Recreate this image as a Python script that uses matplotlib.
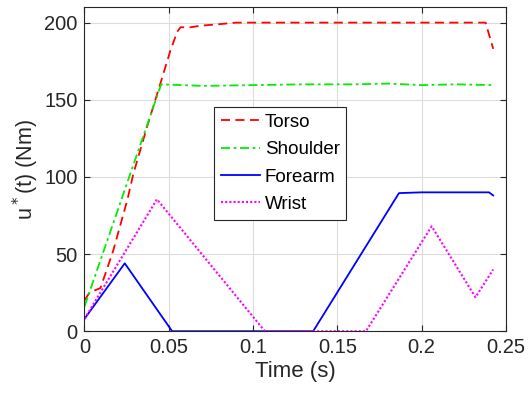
import numpy as np
import matplotlib.pyplot as plt

plt.rcParams['font.family'] = ['Liberation Sans', 'DejaVu Sans']

# Joint torques (time in s, torque in Nm)
t_torso = [0.0, 0.003, 0.0095, 0.017, 0.0254, 0.029, 0.037, 0.046, 0.051, 0.055,
           0.057, 0.063, 0.069, 0.08, 0.09, 0.15, 0.2, 0.238, 0.2425]
u_torso = [20, 25, 28, 52, 85, 102, 132, 164, 182, 194,
           197, 197, 198, 199, 200, 200, 200, 200, 183]

t_shoulder = [0.0, 0.0455, 0.07, 0.1, 0.13, 0.16, 0.18, 0.2, 0.22, 0.2425]
u_shoulder = [16, 160, 159, 159.5, 160, 160, 160.5, 159.5, 160, 159.5]

t_forearm = [0.0, 0.0239, 0.052, 0.1, 0.1357, 0.1866, 0.2, 0.24, 0.2425]
u_forearm = [8, 44, 0, 0, 0, 89.5, 90, 90, 88]

t_wrist = [0.0, 0.043, 0.107, 0.167, 0.206, 0.232, 0.2425]
u_wrist = [8, 85.5, 0, 0, 68, 22, 40]

fig, ax = plt.subplots(figsize=(5.28, 4.0), dpi=100)
ax.plot(t_torso, u_torso, color='#ff0000', ls=(0, (5, 3)), lw=1.3, label='Torso')
ax.plot(t_shoulder, u_shoulder, color='#00ee00', ls=(0, (5, 2, 1.5, 2)), lw=1.3, label='Shoulder')
ax.plot(t_forearm, u_forearm, color='#0000ff', lw=1.3, label='Forearm')
ax.plot(t_wrist, u_wrist, color='#ff00ff', ls=(0, (1, 1)), lw=1.5, label='Wrist')

ax.set_xlim(0, 0.25)
ax.set_ylim(0, 210)
ax.set_xticks([0, 0.05, 0.1, 0.15, 0.2, 0.25])
ax.set_xticklabels(['0', '0.05', '0.1', '0.15', '0.2', '0.25'])
ax.set_yticks([0, 50, 100, 150, 200])
ax.grid(True, color='#dcdcdc', lw=0.8)
ax.tick_params(direction='in', top=True, right=True, labelsize=14.5, length=4,
               colors='#262626', pad=5)
for s in ax.spines.values():
    s.set_color('#262626')
ax.set_xlabel('Time (s)', fontsize=16, color='#262626', labelpad=3)
ax.set_ylabel('u$^*$(t) (Nm)', fontsize=15.5, color='#262626', labelpad=2)

leg = ax.legend(loc='upper left', bbox_to_anchor=(0.308, 0.692), fontsize=13.5,
                fancybox=False, framealpha=1, edgecolor='#262626',
                handlelength=2.1, handletextpad=0.25, borderpad=0.35,
                labelspacing=0.55, borderaxespad=0)
leg.get_frame().set_linewidth(0.8)

fig.subplots_adjust(left=0.16, right=0.958, top=0.982, bottom=0.172)
fig.savefig('out.png', dpi=100)
